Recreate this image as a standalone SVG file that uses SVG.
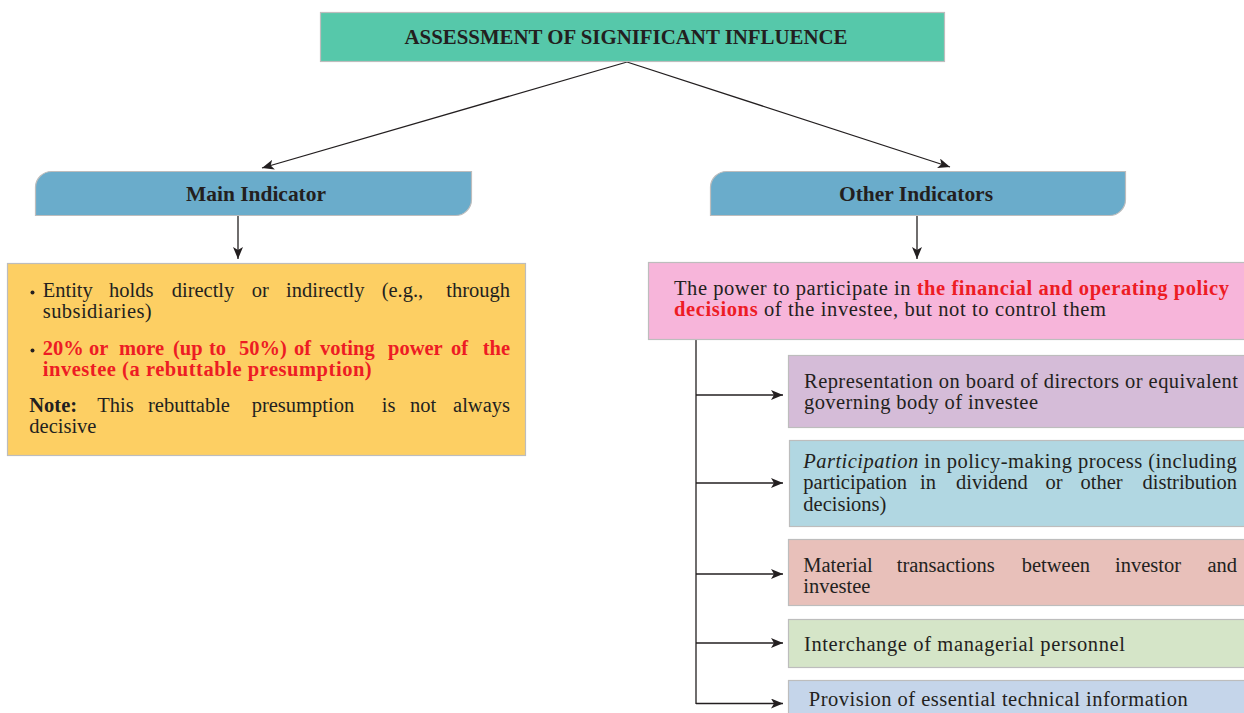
<svg xmlns="http://www.w3.org/2000/svg" width="1244" height="713" viewBox="0 0 1244 713">
<defs>
<marker id="ah" viewBox="0 0 12 10" refX="12" refY="5" markerWidth="12" markerHeight="10" markerUnits="userSpaceOnUse" orient="auto">
<path d="M0,0 L12,5 L0,10 L3,5 Z" fill="#231F20"/>
</marker>
<style>
.t{font-family:"Liberation Serif","Times New Roman",serif;font-size:20.5px;fill:#231F20}
.b{font-weight:bold}
.r{fill:#ED1C24;font-weight:bold}
.h{font-family:"Liberation Serif","Times New Roman",serif;font-weight:bold;fill:#231F20;text-anchor:middle}
.box{stroke:#BDBDBD;stroke-width:1.2}
.ln{stroke:#231F20;stroke-width:1.3;fill:none}
.e{text-anchor:end}
</style>
</defs>
<rect width="1244" height="713" fill="#FFFFFF"/>

<g id="connectors">
<line class="ln" x1="627" y1="62" x2="262" y2="168" marker-end="url(#ah)"/>
<line class="ln" x1="627" y1="62" x2="950" y2="167" marker-end="url(#ah)"/>
<line class="ln" x1="238" y1="216" x2="238" y2="259" marker-end="url(#ah)"/>
<line class="ln" x1="917" y1="216" x2="917" y2="259" marker-end="url(#ah)"/>
<line class="ln" x1="696" y1="339" x2="696" y2="704"/>
<line class="ln" x1="696" y1="395" x2="783" y2="395" marker-end="url(#ah)"/>
<line class="ln" x1="696" y1="483" x2="783" y2="483" marker-end="url(#ah)"/>
<line class="ln" x1="696" y1="574" x2="783" y2="574" marker-end="url(#ah)"/>
<line class="ln" x1="696" y1="643" x2="783" y2="643" marker-end="url(#ah)"/>
<line class="ln" x1="696" y1="703.5" x2="783" y2="703.5" marker-end="url(#ah)"/>
</g>

<g id="title">
<rect class="box" x="320.5" y="12.5" width="624" height="49" fill="#56C8AA" stroke="#8A8A8A"/>
<text class="h" x="626" y="44" font-size="20" textLength="443" lengthAdjust="spacingAndGlyphs">ASSESSMENT OF SIGNIFICANT INFLUENCE</text>
</g>

<g id="main-indicator">
<path class="box" d="M35.5,215.5 V187 A16,16 0 0 1 51.5,171.5 H471.5 V199.5 A16,16 0 0 1 455.5,215.5 Z" fill="#6AACCB"/>
<text class="h" x="256" y="201" font-size="21" textLength="140" lengthAdjust="spacingAndGlyphs">Main Indicator</text>
</g>

<g id="other-indicators">
<path class="box" d="M710.5,215.5 V187 A16,16 0 0 1 726.5,171.5 H1125.5 V199.5 A16,16 0 0 1 1109.5,215.5 Z" fill="#6AACCB"/>
<text class="h" x="916" y="201" font-size="21" textLength="154" lengthAdjust="spacingAndGlyphs">Other Indicators</text>
</g>

<g id="main-box">
<rect class="box" x="7.5" y="263.5" width="518" height="192" fill="#FDCF63"/>
<circle cx="32.5" cy="292.5" r="2" fill="#231F20"/>
<text class="t" y="297"><tspan x="42.7">Entity</tspan><tspan x="109">holds</tspan><tspan x="171.7">directly</tspan><tspan x="251.7">or</tspan><tspan x="286">indirectly</tspan><tspan x="381.7">(e.g.,</tspan><tspan x="510" class="e">through</tspan></text>
<text class="t" x="42.7" y="318" textLength="109">subsidiaries)</text>
<circle cx="32.5" cy="350.5" r="2" fill="#231F20"/>
<text class="t r" y="354.7"><tspan x="42.7">20%</tspan><tspan x="89">or</tspan><tspan x="119">more</tspan><tspan x="173">(up</tspan><tspan x="209">to</tspan><tspan x="239">50%)</tspan><tspan x="294">of</tspan><tspan x="320">voting</tspan><tspan x="388">power</tspan><tspan x="451">of</tspan><tspan x="510" class="e">the</tspan></text>
<text class="t r" x="42.7" y="376" textLength="329">investee (a rebuttable presumption)</text>
<text class="t" y="411.5"><tspan x="29.3" class="b">Note:</tspan><tspan x="97.3">This</tspan><tspan x="148">rebuttable</tspan><tspan x="251.7">presumption</tspan><tspan x="381.7">is</tspan><tspan x="410">not</tspan><tspan x="510" class="e">always</tspan></text>
<text class="t" x="29.3" y="433">decisive</text>
</g>

<g id="power-box">
<rect class="box" x="648.5" y="262.5" width="600" height="77" fill="#F7B5DA"/>
<text class="t" x="674" y="294.5" textLength="555">The power to participate in <tspan class="r">the financial and operating policy</tspan></text>
<text class="t" x="674" y="315.5" textLength="432"><tspan class="r">decisions</tspan> of the investee, but not to control them</text>
</g>

<g id="board">
<rect class="box" x="788.5" y="355.5" width="460" height="72" fill="#D5BCD8"/>
<text class="t" x="804" y="388.3" textLength="434">Representation on board of directors or equivalent</text>
<text class="t" x="804" y="409.3" textLength="234">governing body of investee</text>
</g>

<g id="participation">
<rect class="box" x="789.5" y="440.5" width="460" height="86" fill="#B1D7E2"/>
<text class="t" x="803.3" y="467.7" textLength="433.4"><tspan font-style="italic">Participation</tspan> in policy-making process (including</text>
<text class="t" y="489"><tspan x="803.3">participation</tspan><tspan x="920">in</tspan><tspan x="956">dividend</tspan><tspan x="1045.5">or</tspan><tspan x="1080.5">other</tspan><tspan x="1237" class="e">distribution</tspan></text>
<text class="t" x="803.3" y="510.5">decisions)</text>
</g>

<g id="transactions">
<rect class="box" x="788.5" y="539.5" width="460" height="66" fill="#E8C0BA"/>
<text class="t" y="571.7"><tspan x="803.3">Material</tspan><tspan x="896.7">transactions</tspan><tspan x="1021.7">between</tspan><tspan x="1115">investor</tspan><tspan x="1237" class="e">and</tspan></text>
<text class="t" x="803.3" y="593">investee</text>
</g>

<g id="personnel">
<rect class="box" x="788.5" y="619.5" width="460" height="48" fill="#D5E5C8"/>
<text class="t" x="804" y="651" textLength="321">Interchange of managerial personnel</text>
</g>

<g id="technical">
<rect class="box" x="788.5" y="680.5" width="460" height="40" fill="#C5D5EA"/>
<text class="t" x="808.8" y="706" textLength="379">Provision of essential technical information</text>
</g>
</svg>
